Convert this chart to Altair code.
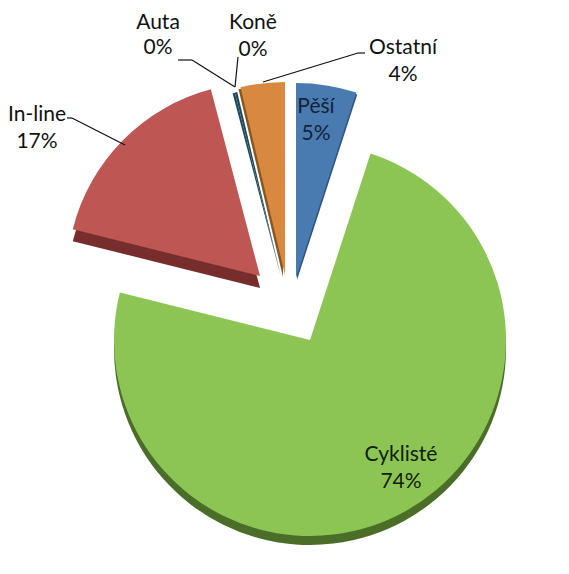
import math
import altair as alt
import pandas as pd

categories = ["Pěší", "Cyklisté", "In-line", "Auta", "Koně", "Ostatní"]
shares = [5.0, 73.9, 17.0, 0.2, 0.2, 3.7]
percent_labels = ["5%", "74%", "17%", "0%", "0%", "4%"]

# styling per slice: page-relative centre, radius, colours, side-wall offset
M = 8
style = {
    "Pěší":     dict(c=(296, 278), r=195, fill="#4A7BB0", side="#2F5680", dx=1, dy=2),
    "Cyklisté": dict(c=(310, 340), r=196, fill="#8DC555", side="#4A6E28", dx=0, dy=9),
    "In-line":  dict(c=(260, 276), r=193, fill="#BE5654", side="#772D2B", dx=0, dy=12),
    "Auta":     dict(c=(281, 277), r=190, fill="#1F4A5C", side="#1F4A5C", dx=0, dy=0),
    "Koně":     dict(c=(281, 277), r=190, fill="#1F4A5C", side="#1F4A5C", dx=0, dy=0),
    "Ostatní":  dict(c=(285, 275), r=193, fill="#D9883F", side="#8A5620", dx=-2, dy=2),
}
text_pos = {
    "Pěší": (316, 113, 27, "#12233a"), "Cyklisté": (401, 461, 27, "#10200a"), "In-line": (37, 121, 27, "#111"),
    "Auta": (158, 29, 25, "#111"), "Koně": (253, 29, 27, "#111"), "Ostatní": (403, 54, 27, "#111"),
}
leaders = [
    [(67, 118), (72, 118), (125, 145)],
    [(178, 60), (192, 60), (235, 87)],
    [(235, 87), (238, 57)],
    [(263, 82), (358, 53), (365, 53)],
]

start, rows = 0.0, []
for cat, val, pct in zip(categories, shares, percent_labels):
    rows.append(dict(cat=cat, start=start, end=start + val, pct=pct))
    start += val
df = pd.DataFrame(rows)

theta_scale = alt.Scale(domain=[0, 100], range=[0, 2 * math.pi])
layers = []


def slice_arc(cat, x, y, r, fill):
    return (
        alt.Chart(df[df.cat == cat])
        .mark_arc(color=fill, radius=r, radius2=0)
        .encode(
            theta=alt.Theta("start:Q", scale=theta_scale),
            theta2="end:Q",
            x=alt.value(x - M),
            y=alt.value(y - M),
        )
    )


for cat in categories:
    s = style[cat]
    cx, cy = s["c"]
    if s["dx"] or s["dy"]:
        layers.append(slice_arc(cat, cx + s["dx"], cy + s["dy"], s["r"], s["side"]))
    layers.append(slice_arc(cat, cx, cy, s["r"], s["fill"]))

for pts in leaders:
    for (x1, y1), (x2, y2) in zip(pts, pts[1:]):
        layers.append(
            alt.Chart(df.head(1))
            .mark_rule(color="#111111", strokeWidth=1.2)
            .encode(x=alt.value(x1 - M), y=alt.value(y1 - M), x2=alt.value(x2 - M), y2=alt.value(y2 - M))
        )

for cat, pct in zip(categories, percent_labels):
    x, y, gap, col = text_pos[cat]
    for line, off in ((cat, 0), (pct, gap)):
        layers.append(
            alt.Chart(pd.DataFrame({"t": [line]}))
            .mark_text(font="Lato", fontSize=21, color=col, align="center", baseline="alphabetic")
            .encode(text="t:N", x=alt.value(x - M), y=alt.value(y - M + off))
        )

chart = (
    alt.layer(*layers)
    .properties(width=553, height=558, padding=0, background="white",
                autosize=alt.AutoSizeParams(type="none"))
    .configure_view(strokeWidth=0, strokeOpacity=0)
)
chart.save("out.html", embed_options={"renderer": "svg", "actions": False})
